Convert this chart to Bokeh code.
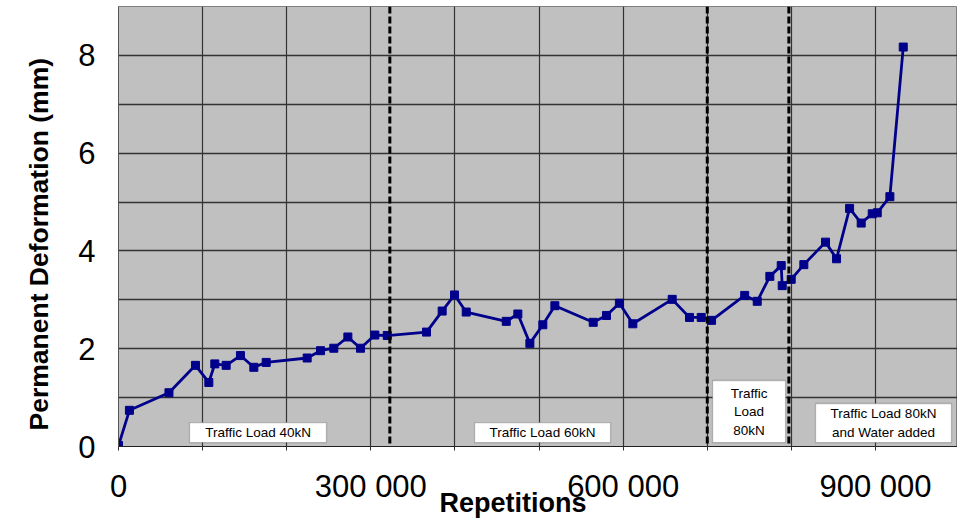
from bokeh.plotting import figure
from bokeh.models import Range1d, FixedTicker, Span, Label, BoxAnnotation, ColumnDataSource, Title
from bokeh.embed import file_html
from bokeh.resources import INLINE

# Measured permanent deformation against load repetitions
repetitions = [0, 13000, 60000, 91500, 107400, 114500, 128000, 145000, 160900, 175600,
               224300, 240200, 256000, 272700, 287700, 304800, 319500, 366200, 384800, 399500,
               413400, 461000, 474800, 489100, 504500, 518800, 564400, 580200, 595500, 611500,
               658300, 678900, 692800, 705100, 744500, 759400, 774400, 787900, 789100, 799800,
               814800, 840600, 853700, 869200, 883000, 896100, 902100, 917100, 933000]
deformation = [0.02, 0.74, 1.10, 1.66, 1.31, 1.69, 1.66, 1.86, 1.62, 1.72,
               1.81, 1.96, 2.01, 2.24, 2.01, 2.28, 2.27, 2.34, 2.77, 3.10,
               2.75, 2.56, 2.71, 2.11, 2.49, 2.88, 2.54, 2.68, 2.93, 2.51,
               3.01, 2.64, 2.64, 2.58, 3.09, 2.97, 3.48, 3.70, 3.29, 3.42,
               3.72, 4.18, 3.84, 4.87, 4.57, 4.76, 4.78, 5.11, 8.17]

# Repetitions at which the loading stage changes
stage_changes = [322600, 700000, 797000]

x_tick_values = [0, 300000, 600000, 900000]
x_tick_labels = ["0", "300 000", "600 000", "900 000"]
y_tick_values = [0, 2, 4, 6, 8]
y_tick_labels = ["0", "2", "4", "6", "8"]

GRID = "#333333"
SERIES = "#00008B"
FONT = "Liberation Sans"

p = figure(width=957, height=519, output_backend="svg", toolbar_location=None,
           x_range=Range1d(0, 997500), y_range=Range1d(0, 9),
           min_border_left=118, min_border_right=0, min_border_top=6, min_border_bottom=73,
           background_fill_color="#c0c0c0", border_fill_color="white",
           outline_line_color="#7f7f7f")

# x axis: grid every 100 000, labels every 300 000
grid_ticks = list(range(0, 1000001, 100000))
p.xaxis.ticker = FixedTicker(ticks=grid_ticks)
overrides = {t: "" for t in grid_ticks}
for v, lab in zip(x_tick_values, x_tick_labels):
    overrides[v] = lab
p.xaxis.major_label_overrides = overrides
p.xaxis.major_tick_out = 4
p.xaxis.major_tick_in = 0
p.xaxis.major_tick_line_color = GRID
p.xaxis.minor_tick_line_color = None
p.xaxis.major_label_standoff = 18
p.xaxis.axis_line_color = "#202020"

# y axis: labels every 2, grid every 1
p.yaxis.ticker = FixedTicker(ticks=y_tick_values, minor_ticks=[1, 3, 5, 7, 9])
p.yaxis.major_label_overrides = {v: lab for v, lab in zip(y_tick_values, y_tick_labels)}
p.yaxis.major_tick_out = 0
p.yaxis.major_tick_in = 0
p.yaxis.minor_tick_out = 0
p.yaxis.minor_tick_in = 0
p.yaxis.major_label_standoff = 23
p.yaxis.axis_line_color = "#555555"

for ax in (p.xaxis, p.yaxis):
    ax.major_label_text_font = FONT
    ax.major_label_text_font_size = "31px"
    ax.major_label_text_color = "black"

# Axis titles as side titles, placed along their axes with offsets
p.add_layout(Title(text="Permanent Deformation (mm)", align="left", offset=16,
                   standoff=43, text_font=FONT, text_font_size="26.5px",
                   text_font_style="bold", text_color="black"), "left")
p.add_layout(Title(text="Repetitions", align="left", offset=321, vertical_align="top",
                   standoff=-38, text_font=FONT, text_font_size="27px",
                   text_font_style="bold", text_color="black"), "below")

p.xgrid.grid_line_color = GRID
p.xgrid.grid_line_width = 1.2
p.ygrid.grid_line_color = GRID
p.ygrid.grid_line_width = 1.4
p.ygrid.minor_grid_line_color = GRID
p.ygrid.minor_grid_line_width = 1.4

# Stage boundaries
for loc in stage_changes:
    p.add_layout(Span(location=loc, dimension="height", line_color="black",
                      line_width=3, line_dash="7 3"))

src = ColumnDataSource(data=dict(x=repetitions, y=deformation))
p.line("x", "y", source=src, line_color=SERIES, line_width=2.8)
p.scatter("x", "y", source=src, marker="square", size=8,
          fill_color=SERIES, line_color=SERIES)

# Stage captions in white boxes
boxes = [
    (84400, 247300, 0.08, 0.49),
    (423300, 585000, 0.08, 0.49),
    (706300, 793100, 0.08, 1.35),
    (828700, 990400, 0.08, 0.88),
]
for left, right, bottom, top in boxes:
    p.add_layout(BoxAnnotation(left=left, right=right, bottom=bottom, top=top,
                               fill_color="white", fill_alpha=1.0,
                               line_color="#404040", line_width=1.3))

captions = [
    (165900, 0.29, "Traffic Load 40kN"),
    (504100, 0.29, "Traffic Load 60kN"),
    (749700, 1.08, "Traffic"),
    (749700, 0.71, "Load"),
    (749700, 0.33, "80kN"),
    (909500, 0.67, "Traffic Load 80kN"),
    (909500, 0.29, "and Water added"),
]
for cx, cy, txt in captions:
    p.add_layout(Label(x=cx, y=cy, text=txt, text_align="center", text_baseline="middle",
                       text_font=FONT, text_font_size="13.5px", text_color="black"))

open("out.html", "w").write(file_html(p, INLINE))
